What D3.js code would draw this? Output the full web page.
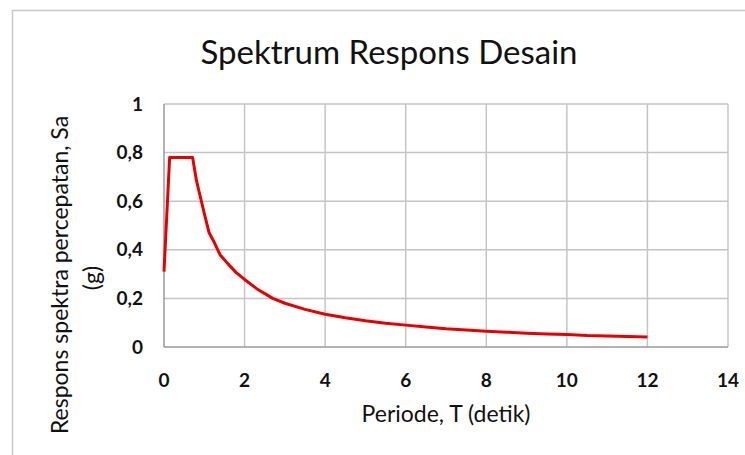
<!DOCTYPE html>
<html>
<head>
<meta charset="utf-8">
<script src="https://cdn.jsdelivr.net/npm/d3@7"></script>
<style>
  body { margin: 0; background: #fff; }
  svg { display: block; }
  text { font-family: Lato, "Open Sans", sans-serif; fill: #111; }
</style>
</head>
<body>
<svg id="chart"></svg>
<script>
// Period values T (seconds)
const periods = [0, 0.14, 0.71, 0.8, 0.87, 1.0, 1.12, 1.25, 1.39, 1.6, 1.8, 2.0, 2.3, 2.7, 3.0, 3.5,
  4.0, 4.5, 5.0, 5.5, 6.0, 6.5, 7.0, 7.5, 8.0, 8.5, 9.0, 9.5, 10.0, 10.5, 11.0, 11.5, 12.0];
// Spectral acceleration Sa (g) for each period
const saValues = [0.31, 0.78, 0.78, 0.69, 0.64, 0.55, 0.47, 0.43, 0.38, 0.34, 0.305, 0.278, 0.24, 0.2, 0.18, 0.155,
  0.135, 0.12, 0.108, 0.098, 0.09, 0.082, 0.075, 0.07, 0.065, 0.061, 0.057, 0.054, 0.051, 0.047, 0.045, 0.043, 0.041];

const xTicks = [0, 2, 4, 6, 8, 10, 12, 14];
const yTicks = [0, 0.2, 0.4, 0.6, 0.8, 1];

const width = 745;
const height = 455;

const svg = d3.select("#chart")
  .attr("width", width)
  .attr("height", height);

// Chart frame (only top and left edges are visible in the picture)
svg.append("path")
  .attr("d", `M12.5,455 V10.5 H745`)
  .attr("fill", "none")
  .attr("stroke", "#c8c8c8")
  .attr("stroke-width", 1.5);

// Plot area
const plotLeft = 164, plotRight = 728, plotTop = 104, plotBottom = 347;

const x = d3.scaleLinear().domain([0, 14]).range([plotLeft, plotRight]);
const y = d3.scaleLinear().domain([0, 1]).range([plotBottom, plotTop]);

// Vertical gridlines
svg.append("g")
  .selectAll("line")
  .data(xTicks.slice(1))
  .join("line")
  .attr("x1", d => x(d)).attr("x2", d => x(d))
  .attr("y1", plotTop).attr("y2", plotBottom)
  .attr("stroke", "#c4c4c4")
  .attr("stroke-width", 1.5);

// Horizontal gridlines
svg.append("g")
  .selectAll("line")
  .data(yTicks.slice(1))
  .join("line")
  .attr("x1", plotLeft).attr("x2", plotRight)
  .attr("y1", d => y(d)).attr("y2", d => y(d))
  .attr("stroke", "#c4c4c4")
  .attr("stroke-width", 1.5);

// Axis lines (slightly darker)
svg.append("line")
  .attr("x1", plotLeft).attr("x2", plotLeft)
  .attr("y1", plotTop).attr("y2", plotBottom)
  .attr("stroke", "#9a9a9a").attr("stroke-width", 1.5);
svg.append("line")
  .attr("x1", plotLeft).attr("x2", plotRight)
  .attr("y1", plotBottom).attr("y2", plotBottom)
  .attr("stroke", "#9a9a9a").attr("stroke-width", 1.5);

// Tick labels
svg.append("g")
  .selectAll("text")
  .data(xTicks)
  .join("text")
  .attr("x", d => x(d))
  .attr("y", 387)
  .attr("text-anchor", "middle")
  .attr("font-size", 19)
  .attr("font-weight", "bold")
  .text(d => d);

const fmt = d => String(d).replace(".", ",");
svg.append("g")
  .selectAll("text")
  .data(yTicks)
  .join("text")
  .attr("x", 143)
  .attr("y", d => y(d))
  .attr("dy", "0.35em")
  .attr("text-anchor", "end")
  .attr("font-size", 19)
  .attr("font-weight", "bold")
  .text(fmt);

// Data line
const data = periods.map((t, i) => ({ t: t, sa: saValues[i] }));
const line = d3.line()
  .x(d => x(d.t))
  .y(d => y(d.sa));

svg.append("path")
  .datum(data)
  .attr("d", line)
  .attr("fill", "none")
  .attr("stroke", "#e60000")
  .attr("stroke-width", 3)
  .attr("stroke-linejoin", "round");

// Title
svg.append("text")
  .attr("x", 389)
  .attr("y", 64)
  .attr("text-anchor", "middle")
  .attr("font-size", 33)
  .text("Spektrum Respons Desain");

// Axis titles
svg.append("text")
  .attr("x", 446)
  .attr("y", 422)
  .attr("text-anchor", "middle")
  .attr("font-size", 23)
  .text("Periode, T (detik)");

svg.append("text")
  .attr("transform", "translate(68,275) rotate(-90)")
  .attr("text-anchor", "middle")
  .attr("font-size", 23)
  .text("Respons spektra percepatan, Sa");
svg.append("text")
  .attr("transform", "translate(100,278) rotate(-90)")
  .attr("text-anchor", "middle")
  .attr("font-size", 23)
  .text("(g)");
</script>
</body>
</html>
